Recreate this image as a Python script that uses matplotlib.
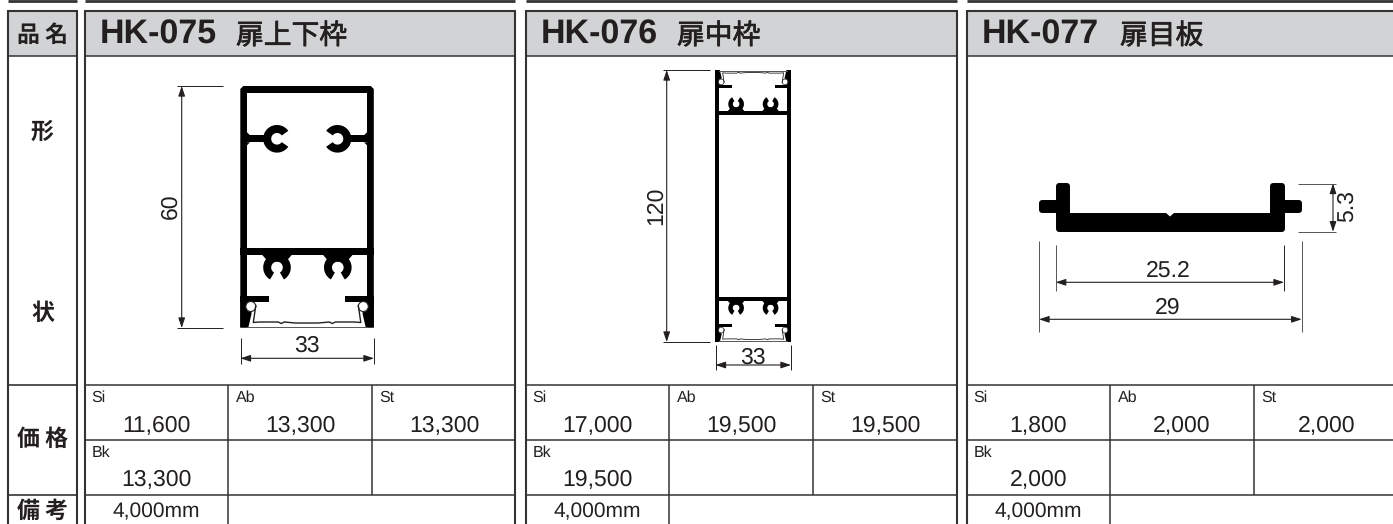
import matplotlib
matplotlib.use('Agg')
import matplotlib.pyplot as plt
import matplotlib.patheffects as pe
from matplotlib.patches import Rectangle, Polygon, Wedge, Circle
from matplotlib.transforms import Affine2D

plt.rcParams['text.hinting'] = 'no_hinting'
plt.rcParams['text.hinting_factor'] = 1

W, H = 1393, 524
INK = '#231f20'
GRID = '#333333'
HEAD = '#d1d3d4'
LATIN = 'Liberation Sans'
CJK = 'Noto Sans CJK JP'

# table contents
codes = ['HK-075', 'HK-076', 'HK-077']
names = ['扉上下枠', '扉中枠', '扉目板']
finishes = ['Si', 'Ab', 'St', 'Bk']
prices_075 = ['11,600', '13,300', '13,300', '13,300']
prices_076 = ['17,000', '19,500', '19,500', '19,500']
prices_077 = ['1,800', '2,000', '2,000', '2,000']
prices = [prices_075, prices_076, prices_077]
length = '4,000mm'
side_labels = ['品 名', '形', '状', '価 格', '備 考']
side_y = [35, 132, 313, 439, 511]

# panel edges
panel_left = [84.5, 525.5, 966.5]
panel_right = [514.5, 956.5, 1400]
name_x = [236, 677, 1120]

# end section of the frame profile, px at HK-075 scale, v measured up from the base
sec_claw_u = [36.7, 97.5]
sec_bar = [73, 79.5]
sec_shelf = [26, 32]
sec_corner_u = [0, 0, 8, 6, 11.5, 9, 8]
sec_corner_v = [0, 27, 27, 17, 15, 4, 0]
sec_clip_u = [15.5, 13, 19, 38, 41, 44, 55, 78, 89, 92, 95, 114, 120.5, 118]
sec_clip_v = [22, 5, 5.5, 5.5, 4, 5.5, 4.5, 4.5, 5.5, 4, 5.5, 5.5, 5, 22]

# HK-077 outline, px, stroked with a round join
plate_x = [1042, 1058.7, 1058.7, 1067, 1067, 1273, 1273, 1282, 1282, 1298.7, 1298.7, 1282, 1282,
           1058.7, 1058.7, 1042]
plate_y = [203, 203, 186.3, 186.3, 216.3, 216.3, 186.3, 186.3, 203, 203, 209.7, 209.7, 228.7,
           228.7, 209.7, 209.7]

fig = plt.figure(figsize=(W / 100, H / 100), dpi=100)
ax = fig.add_axes([0, 0, 1, 1])
ax.set_xlim(0, W)
ax.set_ylim(H, 0)
ax.axis('off')


def hline(x0, x1, y, lw=1.1, c=GRID):
    ax.plot([x0, x1], [y, y], color=c, lw=lw, solid_capstyle='butt')


def vline(x, y0, y1, lw=1.1, c=GRID):
    ax.plot([x, x], [y0, y1], color=c, lw=lw, solid_capstyle='butt')


def box(x0, y0, x1, y1, c='black', z=3, tr=None):
    ax.add_patch(Rectangle((x0, y0), x1 - x0, y1 - y0, fc=c, ec='none', zorder=z,
                           transform=tr if tr is not None else ax.transData))


def dim(x0, y0, x1, y1):
    ax.annotate('', xy=(x1, y1), xytext=(x0, y0), zorder=5,
                arrowprops=dict(arrowstyle='<|-|>,head_length=0.6,head_width=0.2', lw=0.8,
                                color=INK, shrinkA=0, shrinkB=0, mutation_scale=10))


def dim_text(x, y, s, rot=0):
    ax.text(x, y, s, family=LATIN, fontsize=16.5, color=INK, ha='center', va='center', rotation=rot)


def draw_end(x0, y0, s, flip):
    tr = Affine2D().scale(s, -s * flip).translate(x0, y0) + ax.transData
    wid = 133.5
    box(0, sec_bar[0], wid, sec_bar[1], z=3, tr=tr)
    box(0, sec_shelf[0], 29, sec_shelf[1], z=3, tr=tr)
    box(105, sec_shelf[0], wid, sec_shelf[1], z=3, tr=tr)
    for u in sec_claw_u:
        ax.add_patch(Wedge((u, 60), 13.8, -60, 240, width=8, fc='black', ec='none', zorder=3, transform=tr))
        ax.add_patch(Polygon([(u - 16, 74), (u - 9, 66), (u + 9, 66), (u + 16, 74)], fc='black', ec='none',
                             zorder=3, transform=tr))
    # corners and the snap-in cover
    for m in [False, True]:
        us = [wid - a for a in sec_corner_u] if m else sec_corner_u
        ax.add_patch(Polygon(list(zip(us, sec_corner_v)), fc='black', ec='none', zorder=3, transform=tr))
        cu = wid - 10.5 if m else 10.5
        ax.add_patch(Circle((cu, 21), 5, fc='white', ec=INK, lw=0.8 if s == 1 else 0.5, zorder=4, transform=tr))
    ax.plot(sec_clip_u, sec_clip_v, color=INK, lw=1.0 if s == 1 else 0.6, zorder=4, transform=tr)
    ax.plot([7, wid - 7], [1, 1], color='#555555', lw=0.7, zorder=4, transform=tr)


# left label column
ax.add_patch(Rectangle((8, 10.5), 69, 45, fc=HEAD, ec='none', zorder=0))
hline(8, 77, 1, lw=2)
vline(8, 10, H, lw=1.5)
vline(77, 10, H, lw=1.5)
hline(8, 77, 10.5, lw=1.5)
hline(8, 77, 55.5)
hline(8, 77, 384.5, lw=1.2)
hline(8, 77, 494.5, lw=1.2)
for s, y in zip(side_labels, side_y):
    ax.text(42.5, y, s, family=CJK, fontsize=16.5, weight='bold', color=INK, ha='center', va='center')

# panels
for i in range(3):
    x0, x1 = panel_left[i], panel_right[i]
    ax.add_patch(Rectangle((x0, 10.5), x1 - x0, 45, fc=HEAD, ec='none', zorder=0))
    hline(x0, x1, 1, lw=2)
    hline(x0, x1, 10.5, lw=1.5)
    hline(x0, x1, 55.5)
    vline(x0, 10, H, lw=1.5)
    if i < 2:
        vline(x1, 10, H, lw=1.5)
    hline(x0, x1, 384.5)
    hline(x0, x1, 439.5)
    hline(x0, x1, 494.5)
    vline(x0 + 143.5, 384.5, H)
    vline(x0 + 287.5, 384.5, 494.5)
    ax.text(x0 + 15, 35, codes[i], family=LATIN, fontsize=24.5, weight='bold', color=INK, ha='left', va='center')
    ax.text(name_x[i], 36, names[i], family=CJK, fontsize=20, color=INK, ha='left', va='center',
            path_effects=[pe.withStroke(linewidth=0.5, foreground=INK)])
    # price cells
    cell_x = [x0 + 7, x0 + 151, x0 + 295, x0 + 7]
    cell_c = [x0 + 72, x0 + 215.5, x0 + 360, x0 + 72]
    cell_y = [398, 398, 398, 452.5]
    for f, p, lx, cx, ly in zip(finishes, prices[i], cell_x, cell_c, cell_y):
        ax.text(lx, ly, f, family=LATIN, fontsize=11.5, color=INK, ha='left', va='center')
        ax.text(cx, ly + 28, p, family=LATIN, fontsize=16.5, color=INK, ha='center', va='center')
    ax.text(x0 + 72, 512, length, family=LATIN, fontsize=15, color=INK, ha='center', va='center')

# HK-075 profile
ax.add_patch(Polygon([(240.3, 89), (243.3, 86), (370.8, 86), (373.8, 89), (373.8, 327.5), (240.3, 327.5)],
                     fc='black', ec='none', zorder=1))
box(247.3, 93, 366.8, 327.5, c='white', z=2)
box(247, 135.3, 265, 142.3)
box(349, 135.3, 367, 142.3)
for xw, xs in [(247, 1), (367, -1)]:
    for yw, ys in [(135.3, -1), (142.3, 1)]:
        ax.add_patch(Polygon([(xw, yw), (xw + 3 * xs, yw), (xw, yw + 3 * ys)], fc='black', ec='none', zorder=3))
for cx, a0, a1 in [(277, 35, 325), (337.5, 215, 505)]:
    ax.add_patch(Wedge((cx, 138.8), 13.8, a0, a1, width=8, fc='black', ec='none', zorder=3))
draw_end(240.3, 327.5, 1, 1)
dim(181.7, 86, 181.7, 328)
hline(177, 223, 86, lw=0.7, c=INK)
hline(177, 223, 328, lw=0.7, c=INK)
dim_text(171, 206, '60', 90)
dim(240.5, 358.3, 374, 358.3)
vline(240.5, 338, 364, lw=0.7, c=INK)
vline(373.7, 338, 364, lw=0.7, c=INK)
dim_text(307, 346, '33')

# HK-076 profile
box(715.3, 70, 791, 342, z=1)
box(719.3, 70, 787, 342, c='white', z=2)
draw_end(715.3, 342, 0.567, 1)
draw_end(715.3, 70, 0.567, -1)
dim(666.7, 70, 666.7, 342)
hline(663, 710, 70, lw=0.7, c=INK)
hline(663, 710, 342, lw=0.7, c=INK)
dim_text(656, 206, '120', 90)
dim(715.5, 365, 791, 365)
vline(715.5, 345, 370, lw=0.7, c=INK)
vline(791, 345, 370, lw=0.7, c=INK)
dim_text(753, 358, '33')

# HK-077 profile
ax.add_patch(Polygon(list(zip(plate_x, plate_y)), fc='black', ec='black', lw=4.3, joinstyle='round', zorder=3))
ax.add_patch(Polygon([(1165.5, 212.5), (1170, 216.5), (1174.5, 212.5)], fc='white', ec='none', zorder=4))
dim(1333, 183.5, 1333, 231.7)
hline(1297.7, 1336, 183.5, lw=0.7, c='#555555')
hline(1297.7, 1336, 231.7, lw=0.7, c='#555555')
dim_text(1347, 206.5, '5.3', 90)
dim(1055.7, 282.3, 1284, 282.3)
vline(1055.7, 245, 290.7, lw=0.7, c='#555555')
vline(1284, 245, 290.7, lw=0.7, c=INK)
dim_text(1168, 270.5, '25.2')
dim(1039, 319.3, 1301.7, 319.3)
vline(1039, 240.7, 331.7, lw=0.7, c='#555555')
vline(1301.7, 240.7, 331.7, lw=0.7, c='#555555')
dim_text(1168, 307.5, '29')

fig.savefig('out.png', dpi=100)
